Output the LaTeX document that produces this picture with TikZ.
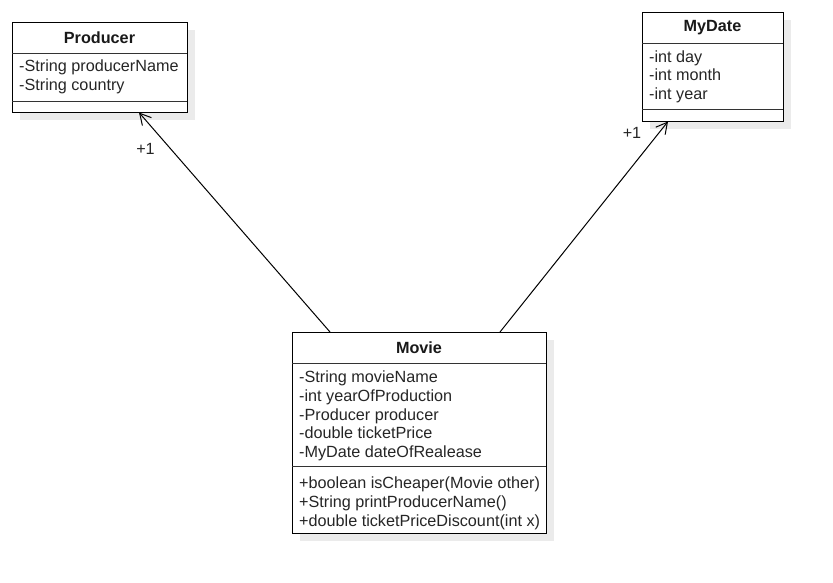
\documentclass[tikz,border=0pt]{standalone}
\usepackage{fontspec}
\setmainfont{Liberation Sans}
\usetikzlibrary{arrows.meta,calc,shadows}

\tikzset{
  umlbox/.style={draw=black, line width=1pt, fill=white, anchor=north west,
    inner sep=0pt, outer sep=0pt,
    drop shadow={fill=black!8, opacity=1, shadow xshift=8pt, shadow yshift=-8pt}},
  sepline/.style={draw=black!80, line width=1pt},
  title/.style={font=\fontsize{16.2}{19}\selectfont\bfseries, text=black!90, inner sep=0pt},
  member/.style={font=\fontsize{16.2}{19}\selectfont, text=black!85, inner sep=0pt, anchor=base west},
  assoc/.style={draw=black, line width=1pt, -{Straight Barb[length=11pt,width=12pt]}},
  mult/.style={font=\fontsize{16.2}{19}\selectfont, text=black!85, inner sep=0pt},
}

\begin{document}
\begin{tikzpicture}[x=1pt,y=-1pt]
\useasboundingbox (0,0) rectangle (833,582);

% ---- Producer ----
\node[umlbox, minimum width=175, minimum height=90] (producer) at (12,22) {};
\draw[sepline] (12,53) -- (187,53);
\draw[sepline] (12,101) -- (187,101);
\node[title] (producerT) at (99.5,38) {Producer};
\node[member] (p1) at (19,71.5) {-String producerName};
\node[member] (p2) at (19,90.5) {-String country};

% ---- MyDate ----
\node[umlbox, minimum width=141, minimum height=109] (mydate) at (642,12) {};
\draw[sepline] (642,43) -- (783,43);
\draw[sepline] (642,109.5) -- (783,109.5);
\node[title] (mydateT) at (712.5,28) {MyDate};
\node[member] (d1) at (649,62) {-int day};
\node[member] (d2) at (649,80.8) {-int month};
\node[member] (d3) at (649,99.6) {-int year};

% ---- Movie ----
\node[umlbox, minimum width=254, minimum height=201] (movie) at (292,332) {};
\draw[sepline] (292,363) -- (546,363);
\draw[sepline] (292,466) -- (546,466);
\node[title] (movieT) at (419,348) {Movie};
\node[member] (m1) at (299,382.5) {-String movieName};
\node[member] (m2) at (299,401.3) {-int yearOfProduction};
\node[member] (m3) at (299,420) {-Producer producer};
\node[member] (m4) at (299,438.8) {-double ticketPrice};
\node[member] (m5) at (299,457.6) {-MyDate dateOfRealease};
\node[member] (f1) at (299,488.8) {+boolean isCheaper(Movie other)};
\node[member] (f2) at (299,507.5) {+String printProducerName()};
\node[member] (f3) at (299,526.3) {+double ticketPriceDiscount(int x)};

% ---- associations ----
\draw[assoc] ($(movie.north west)+(38,0)$) -- ($(producer.south west)+(127,0.5)$);
\draw[assoc] ($(movie.north west)+(208,0)$) -- ($(mydate.south west)+(26,0.5)$);
\node[mult] (mp) at (145.5,148.5) {+1};
\node[mult] (md) at (632,133) {+1};
\end{tikzpicture}
\end{document}
